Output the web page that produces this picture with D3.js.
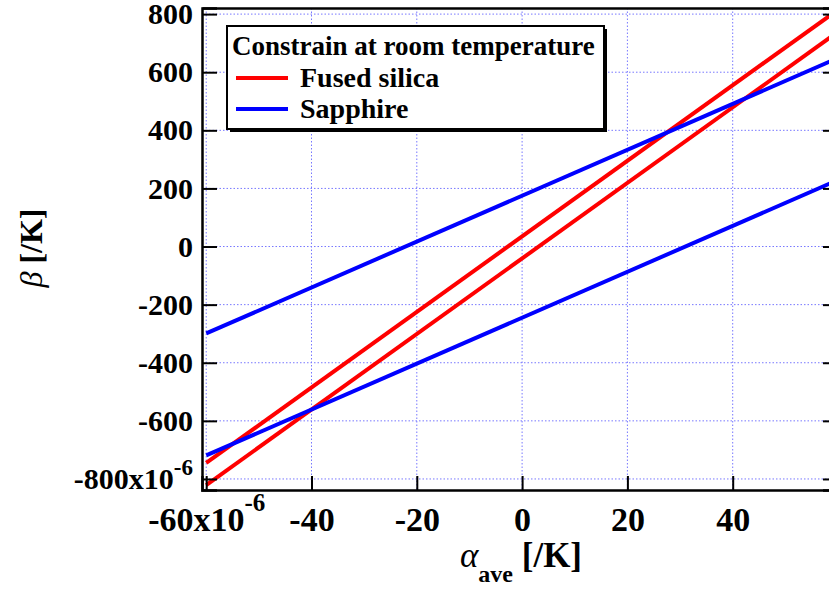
<!DOCTYPE html>
<html>
<head>
<meta charset="utf-8">
<script src="https://cdn.jsdelivr.net/npm/d3@7"></script>
<style>
  body { margin: 0; background: #fff; }
  svg { display: block; }
  text { font-family: "Liberation Serif", "Times New Roman", serif; font-weight: bold; }
</style>
</head>
<body>
<div id="chart"></div>
<script>
// data (alpha and beta both in units of 1e-6 /K)
const alphaPoints = [-60, 60];
const fusedSilicaA = [-745, 815];
const fusedSilicaB = [-821, 739];
const sapphireA = [-299, 649];
const sapphireB = [-719, 229];
const xTicks = [-60, -40, -20, 0, 20, 40];
const yTicks = [-800, -600, -400, -200, 0, 200, 400, 600, 800];
const legendTitle = "Constrain at room temperature";
const seriesNames = ["Fused silica", "Sapphire"];
const seriesColors = ["#ff0000", "#0000ff"];

const width = 829, height = 596;
const plot = { left: 202, right: 838, top: 8, bottom: 490 };

const svg = d3.select("#chart").append("svg")
    .attr("width", width)
    .attr("height", height);

const x = d3.scaleLinear().domain([-60.8, 60]).range([plot.left, plot.right]);
const y = d3.scaleLinear().domain([-838, 821]).range([plot.bottom, plot.top]);

// clip for the lines
svg.append("clipPath").attr("id", "clip")
  .append("rect")
    .attr("x", plot.left).attr("y", plot.top)
    .attr("width", plot.right - plot.left).attr("height", plot.bottom - plot.top);

// grid
const grid = svg.append("g").attr("class", "grid")
    .attr("stroke", "#7777ff").attr("stroke-width", 1).attr("stroke-dasharray", "1.5,2");
grid.selectAll(".gx").data(xTicks).join("line")
    .attr("x1", d => x(d)).attr("x2", d => x(d))
    .attr("y1", plot.top).attr("y2", plot.bottom);
grid.selectAll(".gy").data(yTicks).join("line")
    .attr("x1", plot.left).attr("x2", plot.right)
    .attr("y1", d => y(d)).attr("y2", d => y(d));

// lines
const line = d3.line()
    .x((d, i) => x(alphaPoints[i]))
    .y(d => y(d));

const series = [
  { values: fusedSilicaA, color: seriesColors[0] },
  { values: fusedSilicaB, color: seriesColors[0] },
  { values: sapphireA, color: seriesColors[1] },
  { values: sapphireB, color: seriesColors[1] }
];

svg.append("g").attr("clip-path", "url(#clip)")
  .selectAll("path").data(series).join("path")
    .attr("d", d => line(d.values))
    .attr("fill", "none")
    .attr("stroke", d => d.color)
    .attr("stroke-width", 4);

// axes, ticks pointing inward
const plain = d => String(d);

const xAxis = svg.append("g")
    .attr("transform", `translate(0,${plot.bottom})`)
    .call(d3.axisBottom(x).tickValues(xTicks).tickSize(-14).tickPadding(17).tickFormat(plain));
const yAxis = svg.append("g")
    .attr("transform", `translate(${plot.left},0)`)
    .call(d3.axisLeft(y).tickValues(yTicks).tickSize(-15).tickPadding(9).tickFormat(plain));
svg.append("g")
    .attr("transform", `translate(${plot.right},0)`)
    .call(d3.axisRight(y).tickValues(yTicks).tickSize(-15).tickFormat(""));
svg.append("g")
    .attr("transform", `translate(0,${plot.top})`)
    .call(d3.axisTop(x).tickValues(xTicks).tickSize(0).tickFormat(""));

svg.selectAll(".domain").attr("stroke", "#000").attr("stroke-width", 2.5);
svg.selectAll(".tick line").attr("stroke", "#000").attr("stroke-width", 2);
[[xAxis, 34], [yAxis, 30]].forEach(([ax, size]) => {
  ax.selectAll("text")
    .attr("font-size", size)
    .attr("font-family", "Liberation Serif, serif")
    .attr("font-weight", "bold")
    .attr("fill", "#000");
});

// first tick labels carry the x10^-6 multiplier
xAxis.selectAll(".tick text")
  .filter(d => d === xTicks[0])
  .text(d => d + "x10")
  .append("tspan").attr("font-size", 25).attr("dy", -20).text("-6");
yAxis.selectAll(".tick text")
  .filter(d => d === yTicks[0])
  .text(d => d + "x10")
  .append("tspan").attr("font-size", 23).attr("dy", -14).text("-6");

// axis titles
const xTitle = svg.append("text")
    .attr("x", 521).attr("y", 567)
    .attr("text-anchor", "middle")
    .attr("font-size", 35);
xTitle.append("tspan").attr("font-style", "italic").attr("font-weight", "normal").text("α");
xTitle.append("tspan").attr("font-size", 24).attr("dy", 15).text("ave");
xTitle.append("tspan").attr("dy", -15).text(" [/K]");

const yTitle = svg.append("text")
    .attr("transform", "translate(42,248) rotate(-90)")
    .attr("text-anchor", "middle")
    .attr("font-size", 32);
yTitle.append("tspan").attr("font-style", "italic").attr("font-weight", "normal").text("β");
yTitle.append("tspan").text(" [/K]");

// legend
const lg = { x: 227, y: 26, w: 377, h: 103 };
const legend = svg.append("g");
legend.append("rect")
    .attr("x", lg.x + 3).attr("y", lg.y + 3)
    .attr("width", lg.w).attr("height", lg.h)
    .attr("fill", "#000");
legend.append("rect")
    .attr("x", lg.x).attr("y", lg.y)
    .attr("width", lg.w).attr("height", lg.h)
    .attr("fill", "#fff").attr("stroke", "#000").attr("stroke-width", 2);
legend.append("text")
    .attr("x", lg.x + 5).attr("y", lg.y + 29)
    .attr("font-size", 27)
    .text(legendTitle);
const items = legend.selectAll(".item").data(seriesNames).join("g")
    .attr("transform", (d, i) => `translate(${lg.x},${lg.y + 52 + i * 31})`);
items.append("line")
    .attr("x1", 9).attr("x2", 61)
    .attr("stroke", (d, i) => seriesColors[i])
    .attr("stroke-width", 4);
items.append("text")
    .attr("x", 73).attr("y", 9)
    .attr("font-size", 28)
    .text(d => d);
</script>
</body>
</html>
